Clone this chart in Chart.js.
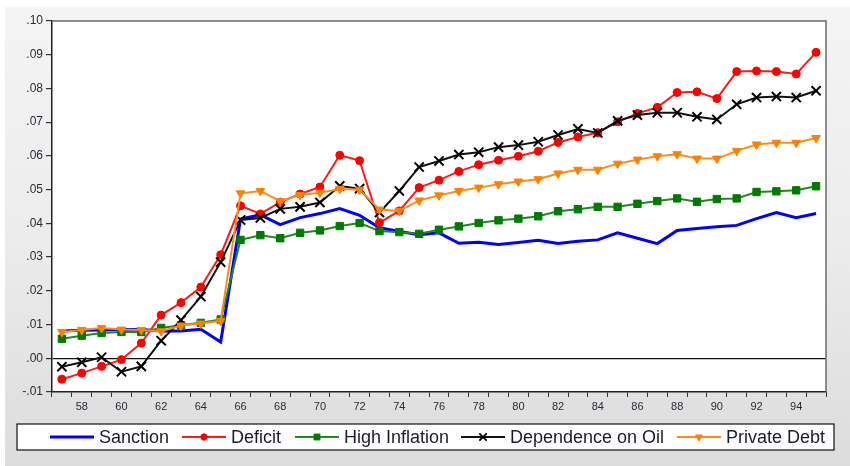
<!DOCTYPE html>
<html>
<head>
<meta charset="utf-8">
<script src="https://cdn.jsdelivr.net/npm/chart.js@4.4.1/dist/chart.umd.min.js"></script>
<style>
    html, body { margin: 0; padding: 0; background: #ffffff; }
    #wrap { position: relative; width: 850px; height: 466px; overflow: hidden; }
    #panel {
        position: absolute; left: 5px; top: 7px; right: 0; bottom: 0;
        background: linear-gradient(to bottom, #f4f4f4 0%, #ececec 50%, #dcdcdc 100%);
    }
    #chart { position: absolute; left: 0; top: 0; }
</style>
</head>
<body>
<div id="wrap">
    <div id="panel"></div>
    <canvas id="chart" width="850" height="466"></canvas>
</div>
<script>
const years = ["57","58","59","60","61","62","63","64","65","66","67","68","69","70","71","72","73","74","75","76",
    "77","78","79","80","81","82","83","84","85","86","87","88","89","90","91","92","93","94","95"];

const sanction = [0.0081, 0.0083, 0.0084, 0.0085, 0.0085, 0.0081, 0.0081, 0.0086, 0.0048, 0.0413,
    0.0425, 0.0396, 0.0417, 0.0429, 0.0444, 0.0424, 0.0387, 0.0376, 0.0366, 0.0372,
    0.0341, 0.0344, 0.0337, 0.0343, 0.0350, 0.0340, 0.0347, 0.0351, 0.0372, 0.0356,
    0.0340, 0.0379, 0.0385, 0.0390, 0.0394, 0.0414, 0.0432, 0.0417, 0.0429];

const deficit = [-0.0062, -0.0044, -0.0024, -0.0004, 0.0045, 0.0128, 0.0165, 0.0211, 0.0307, 0.0452,
    0.0428, 0.0463, 0.0487, 0.0508, 0.0602, 0.0586, 0.0402, 0.0437, 0.0506, 0.0528,
    0.0554, 0.0574, 0.0587, 0.0599, 0.0614, 0.0640, 0.0656, 0.0669, 0.0701, 0.0726,
    0.0744, 0.0788, 0.0790, 0.0770, 0.0850, 0.0852, 0.0850, 0.0843, 0.0907];

const highInflation = [0.0058, 0.0067, 0.0075, 0.0078, 0.0078, 0.0090, 0.0098, 0.0105, 0.0115, 0.0351,
    0.0365, 0.0356, 0.0372, 0.0379, 0.0392, 0.0401, 0.0377, 0.0374, 0.0369, 0.0381,
    0.0391, 0.0401, 0.0409, 0.0414, 0.0421, 0.0436, 0.0442, 0.0449, 0.0449, 0.0458,
    0.0466, 0.0474, 0.0464, 0.0472, 0.0474, 0.0493, 0.0495, 0.0498, 0.0510];

const oilDependence = [-0.0025, -0.0012, 0.0003, -0.0040, -0.0024, 0.0052, 0.0113, 0.0183, 0.0285, 0.0410,
    0.0416, 0.0443, 0.0449, 0.0462, 0.0511, 0.0503, 0.0432, 0.0496, 0.0567, 0.0585,
    0.0604, 0.0611, 0.0626, 0.0632, 0.0642, 0.0662, 0.0680, 0.0668, 0.0704, 0.0721,
    0.0728, 0.0728, 0.0716, 0.0708, 0.0753, 0.0773, 0.0776, 0.0773, 0.0793];

const privateDebt = [0.0078, 0.0084, 0.0090, 0.0085, 0.0084, 0.0080, 0.0097, 0.0103, 0.0111, 0.0489,
    0.0496, 0.0466, 0.0484, 0.0491, 0.0502, 0.0500, 0.0441, 0.0437, 0.0468, 0.0483,
    0.0496, 0.0506, 0.0516, 0.0524, 0.0531, 0.0548, 0.0559, 0.0559, 0.0577, 0.0589,
    0.0599, 0.0605, 0.0592, 0.0592, 0.0615, 0.0634, 0.0639, 0.0639, 0.0653];

const seriesNames = ["Sanction", "Deficit", "High Inflation", "Dependence on Oil", "Private Debt"];

const FONT = "'Liberation Sans', Arial, sans-serif";

// line + marker look of each series (also used by the legend)
const seriesStyles = [
    { line: '#0000ff', fill: '#0000ff', width: 3, point: false, radius: 0, rotation: 0 },
    { line: '#ff1a1a', fill: '#ff0000', width: 2, point: 'circle', radius: 4, rotation: 0 },
    { line: '#1f8a1f', fill: '#007a00', width: 2, point: 'rect', radius: 5.2, rotation: 0 },
    { line: '#111111', fill: '#000000', width: 2, point: 'crossRot', radius: 6.5, rotation: 0 },
    { line: '#ff8c1a', fill: '#ff8000', width: 2, point: 'triangle', radius: 5, rotation: 180 }
];

const seriesData = [sanction, deficit, highInflation, oilDependence, privateDebt];

function yLabel(v) {
    let s = Math.abs(v).toFixed(2).replace(/^0/, '');
    return (v < -1e-9 ? '-' : '') + s;
}

const framePlugin = {
    id: 'frame',
    beforeDraw(chart) {
        const { ctx, chartArea: a } = chart;
        ctx.save();
        ctx.fillStyle = '#ffffff';
        ctx.fillRect(a.left, a.top, a.right - a.left, a.bottom - a.top);
        ctx.restore();
    },
    beforeDatasetsDraw(chart) {
        const { ctx, chartArea: a } = chart;
        ctx.save();
        ctx.strokeStyle = '#6a6a6a';
        ctx.lineWidth = 1.5;
        ctx.beginPath();
        ctx.moveTo(a.left, a.top);
        ctx.lineTo(a.right, a.top);
        ctx.lineTo(a.right, a.bottom);
        ctx.stroke();
        ctx.restore();
    }
};

const legendBoxPlugin = {
    id: 'legendBox',
    afterDraw(chart) {
        const ctx = chart.ctx;
        const lineStarts = [50, 182, 295, 461, 677];
        const midY = 437;
        ctx.save();
        ctx.fillStyle = '#ffffff';
        ctx.fillRect(17, 424, 817, 26);
        ctx.strokeStyle = '#111111';
        ctx.lineWidth = 1.2;
        ctx.strokeRect(17, 424, 817, 26);

        ctx.font = "18px " + FONT;
        ctx.textBaseline = 'middle';
        seriesNames.forEach(function (name, i) {
            const st = seriesStyles[i];
            const x0 = lineStarts[i];
            ctx.strokeStyle = st.line;
            ctx.lineWidth = st.width;
            ctx.beginPath();
            ctx.moveTo(x0, midY);
            ctx.lineTo(x0 + 44, midY);
            ctx.stroke();
            if (st.point) {
                ctx.fillStyle = st.fill;
                ctx.strokeStyle = st.fill;
                ctx.lineWidth = st.point === 'crossRot' ? 1.8 : 1;
                Chart.helpers.drawPoint(ctx, {
                    pointStyle: st.point,
                    radius: st.radius * 0.8,
                    rotation: st.rotation,
                    borderWidth: ctx.lineWidth
                }, x0 + 22, midY);
            }
            ctx.fillStyle = '#1c1c28';
            ctx.fillText(name, x0 + 49, midY + 1);
        });
        ctx.restore();
    }
};

const datasets = seriesNames.map(function (name, i) {
    const st = seriesStyles[i];
    return {
        label: name,
        data: seriesData[i],
        borderColor: st.line,
        borderWidth: st.width,
        backgroundColor: st.fill,
        pointStyle: st.point,
        pointRadius: st.radius,
        pointRotation: st.rotation,
        pointBorderColor: st.fill,
        pointBackgroundColor: st.fill,
        pointBorderWidth: st.point === 'crossRot' ? 2 : 1,
        tension: 0,
        fill: false,
        order: 5 - i
    };
});

new Chart(document.getElementById('chart'), {
    type: 'line',
    data: {
        labels: years,
        datasets: datasets
    },
    options: {
        responsive: false,
        animation: false,
        layout: {
            padding: { top: 21, right: 24, left: 0, bottom: 0 }
        },
        plugins: {
            legend: { display: false },
            tooltip: { enabled: false }
        },
        scales: {
            x: {
                type: 'category',
                offset: true,
                afterFit: function (scale) { scale.height = 74; },
                grid: {
                    offset: true,
                    drawOnChartArea: false,
                    drawTicks: true,
                    tickLength: 5,
                    tickColor: '#333333'
                },
                border: { color: '#222222', width: 1.5 },
                ticks: {
                    autoSkip: false,
                    maxRotation: 0,
                    padding: 3,
                    color: '#2a2a38',
                    font: { family: FONT, size: 11 },
                    callback: function (value) {
                        const lab = this.getLabelForValue(value);
                        return parseInt(lab, 10) % 2 === 0 ? lab : '';
                    }
                }
            },
            y: {
                min: -0.01,
                max: 0.10,
                afterFit: function (scale) { scale.width = 52; },
                grid: {
                    drawTicks: true,
                    tickLength: 6,
                    tickColor: '#333333',
                    lineWidth: 1.2,
                    color: function (ctx) {
                        return ctx.tick && Math.abs(ctx.tick.value) < 1e-9 ? '#111111' : 'rgba(0,0,0,0)';
                    }
                },
                border: { color: '#222222', width: 1.5 },
                ticks: {
                    stepSize: 0.01,
                    padding: 3,
                    color: '#2a2a38',
                    font: { family: FONT, size: 12 },
                    callback: function (value) { return yLabel(value); }
                }
            }
        }
    },
    plugins: [framePlugin, legendBoxPlugin]
});
</script>
</body>
</html>
